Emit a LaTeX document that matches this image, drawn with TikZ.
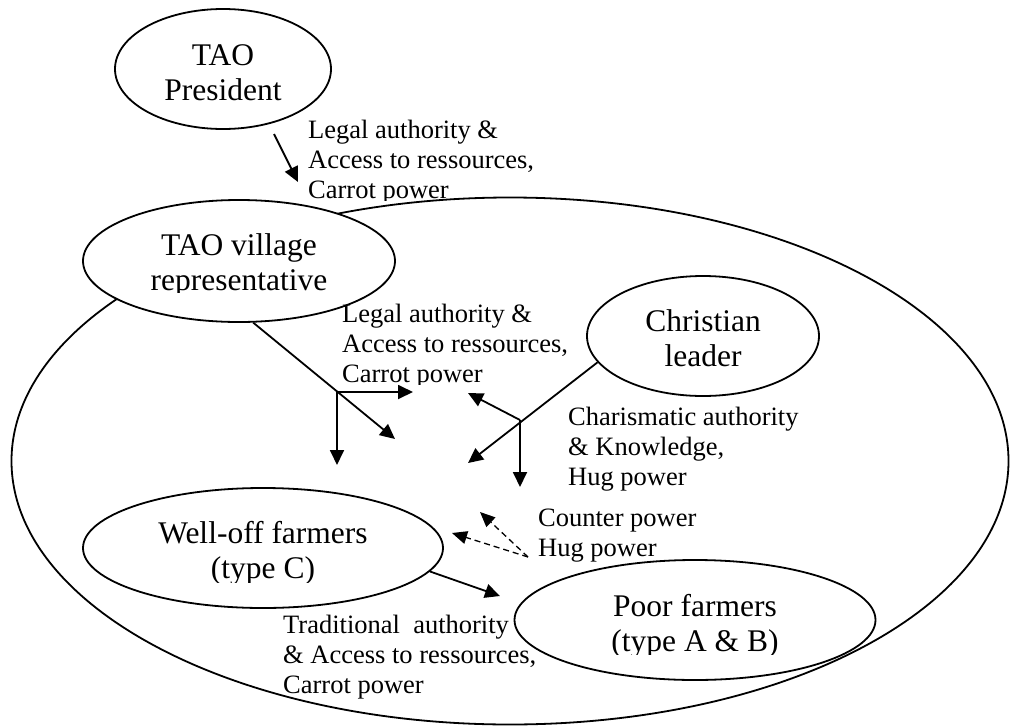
\documentclass[tikz,border=0pt]{standalone}
\usepackage{fontspec}
\setmainfont{Liberation Serif}
\usetikzlibrary{arrows.meta,shapes.geometric}
\newcommand\mylinesl[1]{\begin{tabular}[t]{@{}l@{}}#1\end{tabular}}
\newcommand\mylinesc[1]{\begin{tabular}[t]{@{}c@{}}#1\end{tabular}}
\tikzset{
  oval/.style={ellipse, draw, line width=1.8pt, fill=white, inner sep=0pt},
  ovaltext/.style={inner sep=0pt, anchor=base, font=\fontsize{31.5}{35}\selectfont},
  lbl/.style={inner sep=0pt, anchor=base west, font=\fontsize{26.5}{30}\selectfont},
  arr/.style={line width=1.8pt, -{Triangle[length=15pt,width=14pt]}},
  darr/.style={line width=1.3pt, dash pattern=on 6pt off 4pt, -{Triangle[length=15pt,width=13pt]}},
}
\begin{document}
\begin{tikzpicture}[x=1pt,y=-1pt]
\useasboundingbox (0,0) rectangle (1010,726);
% community ellipse
\node[oval, fill=none, minimum width=997pt, minimum height=527pt] (big) at (510,461) {};
% actor ellipses
\node[oval, minimum width=216pt, minimum height=120pt] (pres) at (223,69) {};
\node[oval, minimum width=312pt, minimum height=122pt] (vill) at (239,261) {};
\node[oval, minimum width=232pt, minimum height=120pt] (chris) at (703,336) {};
\node[oval, minimum width=360pt, minimum height=120pt] (well) at (263,548) {};
\node[oval, minimum width=361pt, minimum height=120pt] (poor) at (695,620) {};
% ellipse texts
\node[ovaltext] (presT) at (223,65) {\mylinesc{TAO\\President}};
\begin{scope}
\clip (0,150) rectangle (600,292);
\node[ovaltext] (villT) at (239,255) {\mylinesc{TAO village\\representative}};
\end{scope}
\node[ovaltext] (chrisT) at (703,331) {\mylinesc{Christian\\leader}};
\begin{scope}
\clip (0,450) rectangle (600,582);
\node[ovaltext] (wellT) at (263,543) {\mylinesc{Well-off farmers\\(type C)}};
\end{scope}
\begin{scope}
\clip (450,560) rectangle (1000,654);
\node[ovaltext] (poorT) at (695,616) {\mylinesc{Poor farmers\\(type A \& B)}};
\end{scope}
% labels
\begin{scope}
\clip (290,100) rectangle (620,200);
\node[lbl] (l1) at (308,138) {\mylinesl{Legal authority \&\\Access to ressources,\\Carrot power}};
\end{scope}
\begin{scope}
\clip (330,290) rectangle (620,384);
\node[lbl] (l2) at (342,322) {\mylinesl{Legal authority \&\\Access to ressources,\\Carrot power}};
\end{scope}
\node[lbl] (l3) at (568,425) {\mylinesl{Charismatic authority\\\& Knowledge,\\Hug power}};
\node[lbl] (l4) at (538,526) {\mylinesl{Counter power\\Hug power}};
\node[lbl] (l5) at (283,633) {\mylinesl{Traditional\ \ authority\\\& Access to ressources,\\Carrot power}};
% coordinates
\coordinate (a1s) at (274,134);
\coordinate (a1e) at (298,182);
\coordinate (a2e) at (395,439);
\coordinate (vb) at (337,392);
\coordinate (a3e) at (413,392);
\coordinate (a4e) at (337,465);
\coordinate (a5e) at (468,463);
\coordinate (cb) at (520,420);
\coordinate (a6e) at (468,393);
\coordinate (a7e) at (520,487);
\coordinate (db) at (528,557);
\coordinate (a8e) at (480,512);
\coordinate (a9e) at (452,533);
\coordinate (a10e) at (500,596);
% connectors
\draw[arr] (a1s) -- (a1e);
\draw[arr] (vill.-77.6) -- (a2e);
\draw[arr] (vb) -- (a3e);
\draw[arr] (vb) -- (a4e);
\draw[arr] (chris.-166.7) -- (a5e);
\draw[arr] (cb) -- (a6e);
\draw[arr] (cb) -- (a7e);
\draw[darr] (db) -- (a8e);
\draw[darr] (db) -- (a9e);
\draw[arr] (well.-8.5) -- (a10e);
\end{tikzpicture}
\end{document}
